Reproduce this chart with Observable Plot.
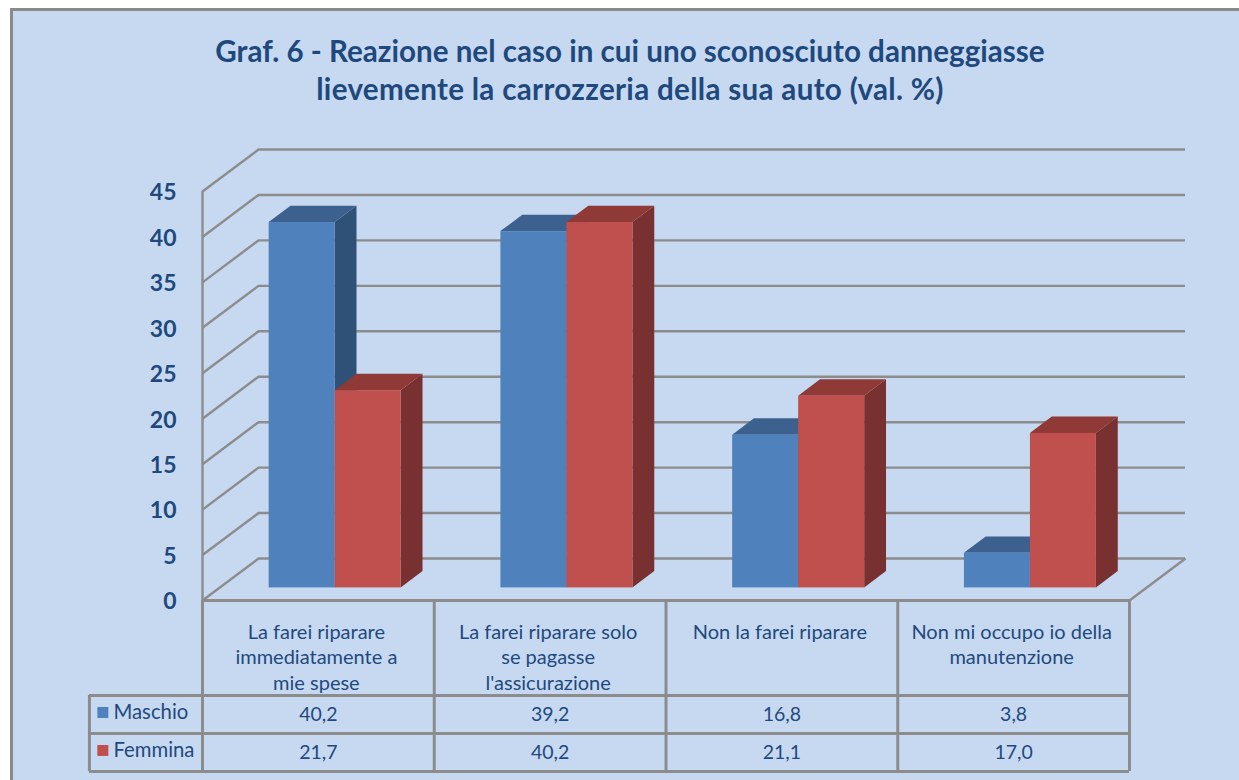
<!DOCTYPE html>
<html lang="it">
<head>
<meta charset="utf-8">
<script src="https://cdn.jsdelivr.net/npm/d3@7"></script>
<script src="https://cdn.jsdelivr.net/npm/@observablehq/plot@0.6"></script>
<style>
html,body{margin:0;padding:0;background:#fff;overflow:hidden;width:1239px;height:780px}
#panel{position:absolute;left:10px;top:8px;width:1300px;height:820px;box-sizing:border-box;background:#c6d9f1;border:3px solid #8a8a8a}
#title{position:absolute;left:0;top:32px;width:1260px;text-align:center;font:bold 29.6px/38px Lato,sans-serif;color:#1f497d}
#title span{letter-spacing:.3px}
#chart{position:absolute;left:0;top:130px}
</style>
</head>
<body>
<div id="panel"></div>
<div id="title">Graf. 6 - Reazione nel caso in cui uno sconosciuto danneggiasse<br><span>lievemente la carrozzeria della sua auto (val. %)</span></div>
<div id="chart"></div>
<script>
const categories = [
  "La farei riparare\nimmediatamente a\nmie spese",
  "La farei riparare solo\nse pagasse\nl'assicurazione",
  "Non la farei riparare",
  "Non mi occupo io della\nmanutenzione"
];
const maschio = [40.2, 39.2, 16.8, 3.8];
const femmina = [21.7, 40.2, 21.1, 17.0];
const seriesNames = ["Maschio", "Femmina"];
const seriesValues = [maschio, femmina];
const frontColors = ["#4f81bd", "#c0504d"];
const topColors = ["#3c618f", "#8f3a37"];
const sideColors = ["#2f5178", "#783030"];
const yTicks = [0, 5, 10, 15, 20, 25, 30, 35, 40, 45];

// Oblique depth of the 3-D box, in data units (categories, percent)
const DX = 0.2416, DY = 4.62;
const Z0 = 0.30, Z1 = 0.69, HALF = 0.2848;
const GRID = "#8c8c8c", INK = "#1f497d";
// Table rows below the zero line, in percent units of the y scale
const ROW_HEAD = -10.45, ROW_A = -14.63, ROW_B = -18.81, LEFT = -0.488, KEY = -0.43, KEY_TEXT = -0.384;

const fmt = v => v.toFixed(1).replace(".", ",");

const barMarks = seriesValues.flatMap((values, s) => {
  const bars = values.map((v, i) => ({
    id: i,
    x0: i + 0.5 + (s - 1) * HALF + Z0 * DX,
    x1: i + 0.5 + s * HALF + Z0 * DX,
    y0: Z0 * DY,
    y1: v + Z0 * DY
  }));
  const dx = (Z1 - Z0) * DX, dy = (Z1 - Z0) * DY;
  const side = bars.flatMap(b => [
    {id: b.id, x: b.x1, y1: b.y0, y2: b.y1},
    {id: b.id, x: b.x1 + dx, y1: b.y0 + dy, y2: b.y1 + dy}
  ]);
  const top = bars.flatMap(b => [
    {id: b.id, y: b.y1, x1: b.x0, x2: b.x1},
    {id: b.id, y: b.y1 + dy, x1: b.x0 + dx, x2: b.x1 + dx}
  ]);
  return [
    Plot.areaY(side, {x: "x", y1: "y1", y2: "y2", z: "id", fill: sideColors[s]}),
    Plot.areaX(top, {y: "y", x1: "x1", x2: "x2", z: "id", fill: topColors[s]}),
    Plot.rect(bars, {x1: "x0", x2: "x1", y1: "y0", y2: "y1", fill: frontColors[s], inset: 0})
  ];
});

const rowLines = [ROW_A, ROW_B, ROW_HEAD];
const colEdges = [0, 1, 2, 3, 4];

const chart = Plot.plot({
  width: 1239,
  height: 650,
  marginLeft: 202,
  marginRight: 110,
  marginTop: 61,
  marginBottom: 180,
  x: {type: "linear", domain: [0, 4], axis: null},
  y: {domain: [0, 45], axis: null},
  style: {background: "transparent", overflow: "visible", fontFamily: "Lato, sans-serif", color: INK},
  marks: [
    // back wall and side wall
    Plot.ruleY(yTicks, {y: d => d + DY, x1: DX, x2: 4 + DX, stroke: GRID, strokeWidth: 2.4}),
    Plot.link(yTicks, {x1: 0, x2: DX, y1: d => d, y2: d => d + DY, stroke: GRID, strokeWidth: 2.4}),
    Plot.ruleX([0], {y1: 0, y2: 45, stroke: GRID, strokeWidth: 2.4}),
    Plot.link([4], {x1: d => d, x2: d => d + DX, y1: 0, y2: DY, stroke: GRID, strokeWidth: 2.4}),
    ...barMarks,
    // y axis
    Plot.axisY({ticks: yTicks, tickSize: 0, tickPadding: 26, label: null, fontSize: 23, fontWeight: "bold", fill: INK, dy: 1.5}),
    // data table
    Plot.ruleY([0], {x1: 0, x2: 4, stroke: GRID, strokeWidth: 3}),
    Plot.ruleY(rowLines, {x1: LEFT, x2: 4, stroke: GRID, strokeWidth: 3}),
    Plot.ruleX(colEdges, {y1: 0, y2: ROW_B, stroke: GRID, strokeWidth: 3}),
    Plot.ruleX([LEFT], {y1: ROW_HEAD, y2: ROW_B, stroke: GRID, strokeWidth: 3}),
    Plot.text(categories, {
      x: (d, i) => i + 0.5, y: -2.15, dx: -2, text: d => d, lineAnchor: "top", lineHeight: 1.3,
      fontSize: 20, fill: INK
    }),
    ...seriesValues.map((values, s) => Plot.text(values, {
      x: (d, i) => i + 0.5,
      y: s === 0 ? (ROW_HEAD + ROW_A) / 2 : (ROW_A + ROW_B) / 2,
      text: d => fmt(d), fontSize: 19.5, fill: INK
    })),
    Plot.text(seriesNames, {
      x: KEY_TEXT, y: (d, i) => i === 0 ? (ROW_HEAD + ROW_A) / 2 : (ROW_A + ROW_B) / 2,
      text: d => d, textAnchor: "start", dy: -2, fontSize: 20.3, fill: INK
    }),
    Plot.dot(seriesNames, {
      x: KEY, y: (d, i) => i === 0 ? (ROW_HEAD + ROW_A) / 2 : (ROW_A + ROW_B) / 2,
      symbol: "square", r: 6.2, dy: -2, fill: (d, i) => frontColors[i]
    })
  ]
});
document.getElementById("chart").appendChild(chart);
</script>
</body>
</html>
